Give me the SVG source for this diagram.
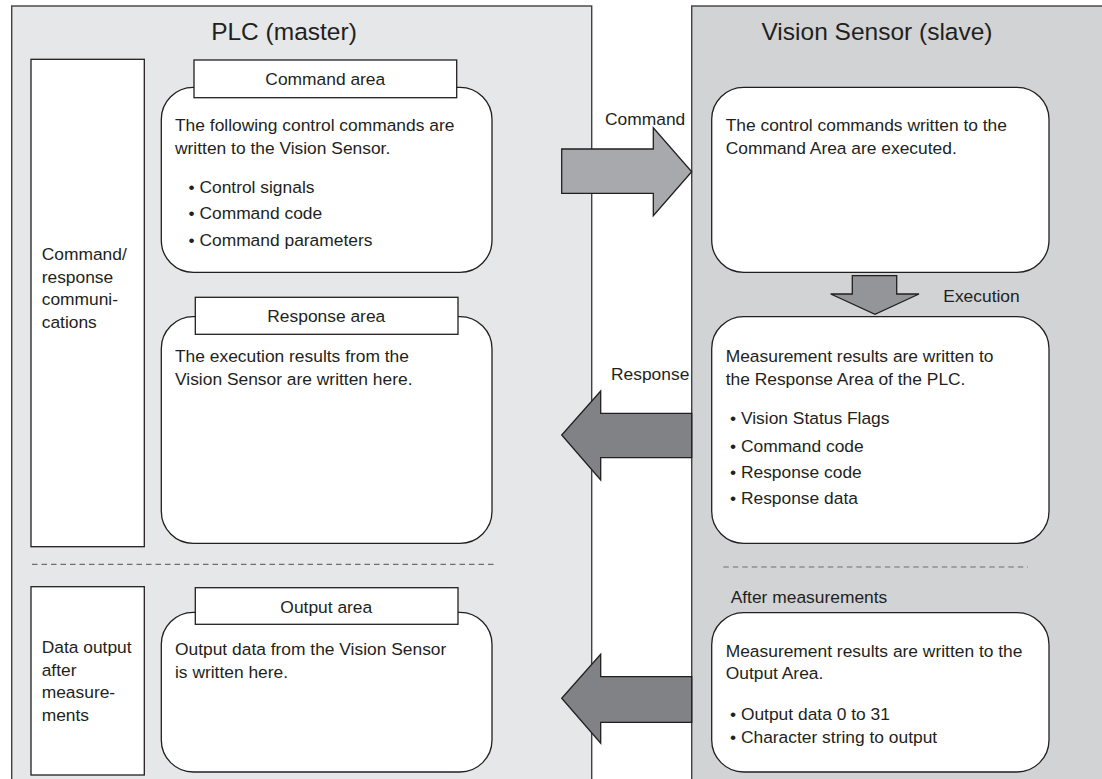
<svg xmlns="http://www.w3.org/2000/svg" width="1102" height="779" viewBox="0 0 1102 779">
<style>
text{font-family:"Liberation Sans",Arial,sans-serif;fill:#231f20;font-size:17.4px}
.title{font-size:24.5px;text-anchor:middle}
.mid{text-anchor:middle}
.panelL{fill:#e6e7e8;stroke:#414042;stroke-width:1.4}
.panelR{fill:#d1d3d4;stroke:#414042;stroke-width:1.4}
.box{fill:#fff;stroke:#231f20;stroke-width:1.3}
.tab{fill:#fff;stroke:#231f20;stroke-width:1.3}
.dash{stroke:#6d6e71;stroke-width:1.2;stroke-dasharray:5.5 4;fill:none}
.arrL{fill:#a7a9ac;stroke:#231f20;stroke-width:1.3;stroke-linejoin:miter}
.arrD{fill:#808285;stroke:#231f20;stroke-width:1.3}
.arrE{fill:#939598;stroke:#231f20;stroke-width:1.3}
</style>
<rect width="1102" height="779" fill="#fff"/>
<g id="plc-panel">
<rect class="panelL" x="11.7" y="6" width="580" height="790"/>
<text class="title" x="284" y="39.5">PLC (master)</text>
</g>
<g id="sensor-panel">
<rect class="panelR" x="691.7" y="6" width="430" height="790"/>
<text class="title" x="877" y="39.5">Vision Sensor (slave)</text>
</g>
<g id="label-cmdresp">
<rect class="box" x="31" y="59.3" width="113.3" height="487.4"/>
<text x="41.7" y="260">Command/</text>
<text x="41.7" y="282.7">response</text>
<text x="41.7" y="305.3">communi-</text>
<text x="41.7" y="328">cations</text>
</g>
<g id="command-area">
<rect class="box" x="161.3" y="87.3" width="330.7" height="185" rx="32" ry="32"/>
<rect class="tab" x="194" y="60" width="262.7" height="37.7"/>
<text class="mid" x="325.3" y="85">Command area</text>
<text x="175" y="130.7">The following control commands are</text>
<text x="175" y="154">written to the Vision Sensor.</text>
<text x="188.5" y="193.3">• Control signals</text>
<text x="188.5" y="219.3">• Command code</text>
<text x="188.5" y="246">• Command parameters</text>
</g>
<g id="response-area">
<rect class="box" x="161.3" y="316.7" width="330.7" height="226.6" rx="32" ry="32"/>
<rect class="tab" x="195.3" y="297.3" width="262.7" height="37"/>
<text class="mid" x="326.3" y="321.7">Response area</text>
<text x="175" y="361.7">The execution results from the</text>
<text x="175" y="385">Vision Sensor are written here.</text>
</g>
<g id="label-dataout">
<rect class="box" x="31" y="586.7" width="113.3" height="188.3"/>
<text x="41.7" y="653.3">Data output</text>
<text x="41.7" y="675.8">after</text>
<text x="41.7" y="698.3">measure-</text>
<text x="41.7" y="721">ments</text>
</g>
<g id="output-area">
<rect class="box" x="161.3" y="612.3" width="330.7" height="159.7" rx="32" ry="32"/>
<rect class="tab" x="195.3" y="587.7" width="262.7" height="36.6"/>
<text class="mid" x="326.3" y="613.3">Output area</text>
<text x="175" y="655">Output data from the Vision Sensor</text>
<text x="175" y="678.3">is written here.</text>
</g>
<g id="sensor-exec">
<rect class="box" x="711.7" y="87.3" width="337.3" height="185" rx="32" ry="32"/>
<text x="725.7" y="130.7">The control commands written to the</text>
<text x="725.7" y="154">Command Area are executed.</text>
</g>
<g id="sensor-results">
<rect class="box" x="711.7" y="316.7" width="337.3" height="226.6" rx="32" ry="32"/>
<text x="725.7" y="361.7">Measurement results are written to</text>
<text x="725.7" y="385">the Response Area of the PLC.</text>
<text x="730" y="424">• Vision Status Flags</text>
<text x="730" y="451.7">• Command code</text>
<text x="730" y="478.3">• Response code</text>
<text x="730" y="504.3">• Response data</text>
</g>
<g id="sensor-output">
<text x="730.7" y="603.3">After measurements</text>
<rect class="box" x="711.7" y="612.7" width="337.3" height="159.3" rx="32" ry="32"/>
<text x="725.7" y="656.7">Measurement results are written to the</text>
<text x="725.7" y="679.3">Output Area.</text>
<text x="730" y="720">• Output data 0 to 31</text>
<text x="730" y="743.3">• Character string to output</text>
</g>
<g id="dividers">
<line class="dash" x1="32" y1="564.3" x2="495" y2="564.3"/>
<line class="dash" x1="723.3" y1="567" x2="1028" y2="567"/>
</g>
<g id="connectors">
<polygon class="arrL" points="561.7,149 653.3,149 653.3,127.7 691.7,171.7 653.3,215.7 653.3,193.3 561.7,193.3"/>
<text x="605" y="125">Command</text>
<polygon class="arrE" points="852.3,275.7 896.7,275.7 896.7,294 919,294 875,314.3 830.7,294 852.3,294"/>
<text x="943.3" y="301.7">Execution</text>
<polygon class="arrD" points="691.7,413.3 600.7,413.3 600.7,391 561.7,435 600.7,480 600.7,457.7 691.7,457.7"/>
<text x="611" y="380">Response</text>
<polygon class="arrD" points="691.7,676.7 600.7,676.7 600.7,654.3 561.7,698.3 600.7,743.3 600.7,722.3 691.7,722.3"/>
</g>
</svg>
